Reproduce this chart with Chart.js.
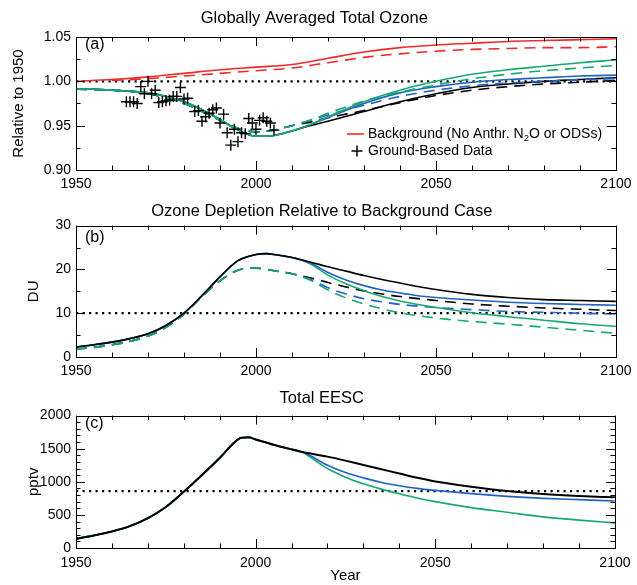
<!DOCTYPE html>
<html><head><meta charset="utf-8">
<script src="https://cdn.jsdelivr.net/npm/chart.js@4.4.1/dist/chart.umd.min.js"></script>
<style>
html,body{margin:0;padding:0;background:#fff;}
#wrap{position:relative;width:637px;height:585px;overflow:hidden;}
canvas{position:absolute;left:0;}
</style></head><body>
<div id="wrap">
<canvas id="ca" width="637" height="190" style="top:0px"></canvas>
<canvas id="cb" width="637" height="187" style="top:190px"></canvas>
<canvas id="cc" width="637" height="208" style="top:377px"></canvas>
</div>
<script>
// ---------------- DATA ----------------
// Panel (a): Globally averaged total ozone, relative to 1950
const A_RED_YEARS = [1950,1960,1970,1980,1990,2000,2010,2020,2030,2040,2050,2060,2070,2080,2090,2100];
const A_RED_GSFC  = [1.000,1.002,1.005,1.009,1.013,1.016,1.019,1.026,1.033,1.038,1.041,1.043,1.045,1.046,1.047,1.048];
const A_RED_N_YEARS = [1960,1970,1980,1990,2000,2010,2020,2030,2040,2050,2060,2070,2080,2090,2100];
const A_RED_NOCAR = [1.001,1.003,1.006,1.009,1.012,1.015,1.021,1.027,1.031,1.034,1.036,1.037,1.038,1.038,1.039];

const A_YEARS = [1950,1955,1960,1965,1970,1975,1980,1985,1990,1995,2000,2005,2010,2015,2020,2030,2040,2050,2060,2070,2080,2090,2100];
const A_GREEN_GSFC = [0.991,0.991,0.990,0.989,0.987,0.983,0.977,0.968,0.957,0.945,0.938,0.939,0.944,0.951,0.960,0.977,0.990,1.000,1.008,1.013,1.017,1.021,1.024];
const A_BLUE_GSFC  = [0.991,0.991,0.990,0.989,0.987,0.983,0.977,0.968,0.957,0.945,0.938,0.939,0.944,0.951,0.959,0.975,0.987,0.994,0.999,1.002,1.004,1.006,1.007];
const A_BLACK_GSFC = [0.991,0.991,0.990,0.989,0.987,0.983,0.977,0.968,0.957,0.945,0.938,0.939,0.944,0.950,0.955,0.966,0.977,0.986,0.993,0.997,1.000,1.002,1.004];

const A_N_YEARS = [1950,1960,1970,1980,1985,1990,1995,2000,2005,2010,2015,2020,2025,2030,2040,2050,2060,2070,2080,2090,2100];
const A_GREEN_NOCAR = [0.991,0.990,0.986,0.975,0.966,0.956,0.947,0.943,0.945,0.950,0.956,0.964,0.971,0.978,0.988,0.996,1.003,1.008,1.012,1.015,1.018];
const A_BLUE_NOCAR  = [0.991,0.990,0.986,0.975,0.966,0.956,0.947,0.943,0.945,0.950,0.956,0.962,0.968,0.973,0.983,0.990,0.995,0.998,1.000,1.002,1.003];
const A_BLACK_NOCAR = [0.991,0.990,0.986,0.975,0.966,0.956,0.947,0.943,0.945,0.950,0.954,0.959,0.963,0.967,0.976,0.984,0.990,0.994,0.997,0.999,1.001];

const OBS_YEARS = [1964,1965,1966,1967,1968,1969,1970,1971,1972,1973,1974,1975,1976,1977,1978,1979,1980,1981,1983,1984,1985,1986,1987,1988,1989,1990,1991,1992,1993,1994,1995,1996,1997,1998,1999,2000,2001,2002,2003,2004,2005];
const OBS_VALUES = [0.977,0.977,0.977,0.975,0.994,0.986,1.000,0.986,0.990,0.976,0.977,0.978,0.979,0.983,0.983,0.993,0.980,0.981,0.966,0.967,0.955,0.960,0.964,0.968,0.970,0.953,0.963,0.942,0.928,0.946,0.932,0.942,0.941,0.958,0.953,0.946,0.956,0.959,0.955,0.953,0.945];

// Panel (b): Ozone depletion relative to background (DU)
const B_YEARS = [1950,1955,1960,1965,1970,1975,1980,1985,1990,1995,2000,2003,2005,2010,2015,2020,2025,2030,2035,2040,2045,2050,2060,2070,2080,2090,2100];
const B_BLACK_GSFC = [2.3,2.8,3.4,4.2,5.3,7.2,10.0,14.0,18.3,22.0,23.4,23.6,23.4,22.7,21.7,20.6,19.6,18.6,17.7,16.9,16.1,15.4,14.3,13.6,13.1,12.9,12.7];
const B_BLUE_GSFC  = [2.3,2.8,3.4,4.2,5.3,7.2,10.0,14.0,18.3,22.0,23.4,23.6,23.4,22.7,21.5,19.3,17.6,16.3,15.3,14.6,14.0,13.6,13.0,12.5,12.2,12.0,11.8];
const B_GREEN_GSFC = [2.3,2.8,3.4,4.2,5.3,7.2,10.0,14.0,18.3,22.0,23.4,23.6,23.4,22.7,21.3,18.7,16.7,15.1,13.8,12.8,12.0,11.3,10.1,9.2,8.4,7.6,7.0];

const B_N_YEARS = [1950,1955,1960,1965,1970,1975,1980,1985,1990,1995,1998,2000,2005,2010,2015,2020,2025,2030,2035,2040,2050,2060,2070,2080,2090,2100];
const B_BLACK_NOCAR = [1.8,2.2,2.8,3.6,4.8,6.8,9.8,13.8,17.4,19.8,20.3,20.3,19.7,19.0,18.1,17.0,16.0,15.1,14.4,13.8,12.9,12.1,11.6,11.2,10.9,10.6];
const B_BLUE_NOCAR  = [1.8,2.2,2.8,3.6,4.8,6.8,9.8,13.8,17.4,19.8,20.3,20.3,19.7,19.0,17.8,15.8,14.4,13.3,12.6,12.0,11.3,10.8,10.4,10.2,10.0,9.8];
const B_GREEN_NOCAR = [1.8,2.2,2.8,3.6,4.8,6.8,9.8,13.8,17.4,19.8,20.3,20.3,19.7,19.0,17.6,15.3,13.5,12.1,11.0,10.1,8.9,8.1,7.5,6.8,6.1,5.4];

// Panel (c): Total EESC (pptv)
const C_YEARS = [1950,1955,1960,1965,1970,1975,1980,1985,1990,1994,1996,1998,2000,2005,2010,2013,2015,2020,2025,2030,2035,2040,2045,2050,2060,2070,2080,2090,2100];
const C_BLACK = [140,190,250,330,450,620,850,1100,1360,1590,1665,1672,1640,1560,1490,1450,1430,1380,1320,1255,1190,1125,1060,1005,925,860,815,785,765];
const C_BLUE  = [140,190,250,330,450,620,850,1100,1360,1590,1665,1672,1640,1560,1490,1450,1400,1250,1140,1060,990,940,900,870,820,780,750,730,710];
const C_GREEN = [140,190,250,330,450,620,850,1100,1360,1590,1665,1672,1640,1560,1490,1450,1380,1200,1070,970,890,820,755,700,610,540,470,420,380];

// Reference levels
const REF_A = 1.0, REF_B = 10, REF_C = 860;
const X_TICKS = [1950, 2000, 2050, 2100];

// ---------------- STYLE ----------------
const FONT = "'Liberation Sans', Arial, Helvetica, sans-serif";
const RED = '#ee2a2a', BLUE = '#2262c2', GREEN = '#17a870', BLACK = '#000000';
Chart.defaults.font.family = FONT;
Chart.defaults.color = '#000';

const pts = (xs, ys) => xs.map((x, i) => ({x, y: ys[i]}));
const line = (label, xs, ys, color, dashed, order, width) => ({
  label, data: pts(xs, ys), borderColor: color, backgroundColor: color,
  borderWidth: width || 1.6, borderDash: dashed ? [11, 7] : [], pointRadius: 0,
  cubicInterpolationMode: 'monotone', fill: false, order
});
const refLine = (v) => ({
  label: 'ref', data: [{x: 1950, y: v}, {x: 2100, y: v}], borderColor: '#000',
  borderWidth: 2.2, borderDash: [2.2, 4.3], pointRadius: 0, order: 50
});

function richText(ctx, parts, x, y, size) {
  let cx = x;
  ctx.textBaseline = 'middle'; ctx.textAlign = 'left'; ctx.fillStyle = '#000';
  for (const p of parts) {
    if (p.sub) { ctx.font = (size * 0.68) + 'px ' + FONT; ctx.fillText(p.t, cx, y + size * 0.32); }
    else { ctx.font = size + 'px ' + FONT; ctx.fillText(p.t, cx, y); }
    cx += ctx.measureText(p.t).width;
  }
}

function deco(cfg) {
  return {
    id: 'deco',
    afterDatasetsDraw(chart) {
      const ctx = chart.ctx, a = chart.chartArea, xs = chart.scales.x, ys = chart.scales.y;
      ctx.save();
      ctx.strokeStyle = '#000'; ctx.lineWidth = 1;
      ctx.strokeRect(Math.round(a.left) + 0.5, Math.round(a.top) + 0.5,
                     Math.round(a.right - a.left), Math.round(a.bottom - a.top));
      ctx.beginPath();
      for (let v = 1950; v <= 2100; v += 10) {
        const px = Math.round(xs.getPixelForValue(v)) + 0.5;
        const L = (v % 50 === 0) ? 9 : 4.5;
        ctx.moveTo(px, a.bottom); ctx.lineTo(px, a.bottom - L);
        ctx.moveTo(px, a.top); ctx.lineTo(px, a.top + L);
      }
      for (let i = 0; ; i++) {
        const v = cfg.ymin + i * cfg.minor;
        if (v > cfg.ymax + 1e-9) break;
        const py = Math.round(ys.getPixelForValue(v)) + 0.5;
        const major = Math.abs(Math.round(v / cfg.major) * cfg.major - v) < 1e-9;
        const L = major ? 9 : 4.5;
        ctx.moveTo(a.left, py); ctx.lineTo(a.left + L, py);
        ctx.moveTo(a.right, py); ctx.lineTo(a.right - L, py);
      }
      ctx.stroke();
      // panel label
      ctx.fillStyle = '#000'; ctx.font = '16px ' + FONT; ctx.textBaseline = 'middle'; ctx.textAlign = 'left';
      ctx.fillText(cfg.tag, a.left + 9, a.top + cfg.tagDy);
      if (cfg.legend) cfg.legend(ctx, a);
      ctx.restore();
    }
  };
}

function seg(ctx, x1, x2, y, color, dash, w) {
  ctx.save(); ctx.strokeStyle = color; ctx.lineWidth = w || 1.6; ctx.setLineDash(dash || []);
  ctx.beginPath(); ctx.moveTo(x1, y); ctx.lineTo(x2, y); ctx.stroke(); ctx.restore();
}

function makeOptions(o) {
  return {
    responsive: false, animation: false, events: [],
    layout: { padding: { left: o.padLeft, right: 18, top: 0, bottom: 0 } },
    plugins: {
      legend: { display: false }, tooltip: { enabled: false },
      title: { display: true, text: o.title, color: '#000', font: { size: 16.5, weight: 'normal' },
               padding: { top: o.tTop, bottom: o.tBot } }
    },
    scales: {
      x: {
        type: 'linear', min: 1950, max: 2100,
        grid: { display: false, drawTicks: false }, border: { display: false },
        afterBuildTicks: (s) => { s.ticks = X_TICKS.map(v => ({ value: v })); },
        ticks: { color: '#000', font: { size: 14 }, padding: o.xPad, maxRotation: 0, autoSkip: false,
                 callback: (v) => String(v) },
        title: { display: !!o.xTitle, text: o.xTitle || '', color: '#000', font: { size: 15 }, padding: 0 },
        afterFit: (s) => { s.height = o.xH; }
      },
      y: {
        min: o.ymin, max: o.ymax,
        grid: { display: false, drawTicks: false }, border: { display: false },
        ticks: { stepSize: o.major, color: '#000', font: { size: 14 }, padding: 5,
                 callback: o.fmt },
        title: { display: true, text: o.yTitle, color: '#000', font: { size: 15 }, padding: 0 },
        afterFit: (s) => { s.width = 76 - o.padLeft; }
      }
    }
  };
}

// ---------- Panel (a) ----------
new Chart(document.getElementById('ca'), {
  type: 'line',
  data: { datasets: [
    { type: 'scatter', label: 'Ground-Based Data', data: pts(OBS_YEARS, OBS_VALUES), showLine: false,
      pointStyle: 'cross', pointRadius: 5.5, borderColor: '#000', borderWidth: 1.4, backgroundColor: '#000', order: 0 },
    line('No Future N2O or ODS (GSFC)', A_YEARS, A_GREEN_GSFC, GREEN, false, 1),
    line('No Future N2O or ODS (NOCAR)', A_N_YEARS, A_GREEN_NOCAR, GREEN, true, 2),
    line('No Future ODS (GSFC)', A_YEARS, A_BLUE_GSFC, BLUE, false, 3),
    line('No Future ODS (NOCAR)', A_N_YEARS, A_BLUE_NOCAR, BLUE, true, 4),
    line('Baseline (GSFC)', A_YEARS, A_BLACK_GSFC, BLACK, false, 5),
    line('Baseline (NOCAR)', A_N_YEARS, A_BLACK_NOCAR, BLACK, true, 6),
    line('Background (GSFC)', A_RED_YEARS, A_RED_GSFC, RED, false, 7),
    line('Background (NOCAR)', A_RED_N_YEARS, A_RED_NOCAR, RED, true, 8),
    refLine(REF_A)
  ]},
  options: makeOptions({ title: 'Globally Averaged Total Ozone', tTop: 9, tBot: 8.2, padLeft: 9.6,
    ymin: 0.90, ymax: 1.05, major: 0.05, fmt: (v) => v.toFixed(2), yTitle: 'Relative to 1950', xPad: 5.5, xH: 20 }),
  plugins: [deco({ ymin: 0.90, ymax: 1.05, major: 0.05, minor: 0.025, tag: '(a)', tagDy: 8,
    legend: (ctx, a) => {
      seg(ctx, 347, 364, 134, RED);
      richText(ctx, [{t: 'Background (No Anthr. N'}, {t: '2', sub: true}, {t: 'O or ODSs)'}], 368, 134, 14);
      ctx.strokeStyle = '#000'; ctx.lineWidth = 1.5; ctx.beginPath();
      ctx.moveTo(351.5, 151); ctx.lineTo(362.5, 151); ctx.moveTo(357, 145.5); ctx.lineTo(357, 156.5); ctx.stroke();
      richText(ctx, [{t: 'Ground-Based Data'}], 368, 151, 14);
    }})]
});

// ---------- Panel (b) ----------
new Chart(document.getElementById('cb'), {
  type: 'line',
  data: { datasets: [
    line('Baseline (GSFC)', B_YEARS, B_BLACK_GSFC, BLACK, false, 1),
    line('No Future ODS (GSFC)', B_YEARS, B_BLUE_GSFC, BLUE, false, 2),
    line('No Future N2O or ODS (GSFC)', B_YEARS, B_GREEN_GSFC, GREEN, false, 3),
    line('No Future N2O or ODS (NOCAR)', B_N_YEARS, B_GREEN_NOCAR, GREEN, true, 4),
    line('No Future ODS (NOCAR)', B_N_YEARS, B_BLUE_NOCAR, BLUE, true, 5),
    line('Baseline (NOCAR)', B_N_YEARS, B_BLACK_NOCAR, BLACK, true, 6),
    refLine(REF_B)
  ]},
  options: makeOptions({ title: 'Ozone Depletion Relative to Background Case', tTop: 11.4, tBot: 4.4, padLeft: 24.6,
    ymin: 0, ymax: 30, major: 10, fmt: (v) => String(v), yTitle: 'DU', xPad: 5.5, xH: 20 }),
  plugins: [deco({ ymin: 0, ymax: 30, major: 10, minor: 5, tag: '(b)', tagDy: 12,
    legend: (ctx, a) => {
      seg(ctx, 375, 393, 239, BLUE, [], 2);
      richText(ctx, [{t: 'No Future ODS Emission'}], 397, 239, 14);
      seg(ctx, 375, 393, 252.5, '#3cc08c', [], 2);
      richText(ctx, [{t: 'No Future N'}, {t: '2', sub: true}, {t: 'O or ODS Emission'}], 397, 252.5, 14);
      seg(ctx, 375, 393, 266, BLACK, [], 1.6);
      richText(ctx, [{t: 'Baseline'}], 397, 266, 14);
      seg(ctx, 223, 267, 331, BLACK, [], 1.6);
      richText(ctx, [{t: 'GSFC'}], 268, 331, 14);
      seg(ctx, 223, 236, 345, BLACK, [], 1.6);
      seg(ctx, 251, 267, 345, BLACK, [], 1.6);
      richText(ctx, [{t: 'NOCAR'}], 268, 345, 14);
    }})]
});

// ---------- Panel (c) ----------
new Chart(document.getElementById('cc'), {
  type: 'line',
  data: { datasets: [
    line('Baseline', C_YEARS, C_BLACK, BLACK, false, 1, 2),
    line('No Future ODS Emission', C_YEARS, C_BLUE, BLUE, false, 2, 1.7),
    line('No Future N2O or ODS Emission', C_YEARS, C_GREEN, GREEN, false, 3, 1.7),
    refLine(REF_C)
  ]},
  options: makeOptions({ title: 'Total EESC', tTop: 11.4, tBot: 7.4, padLeft: 24.6,
    ymin: 0, ymax: 2000, major: 500, fmt: (v) => String(v), yTitle: 'pptv', xPad: 6.5, xH: 37, xTitle: 'Year' }),
  plugins: [deco({ ymin: 0, ymax: 2000, major: 500, minor: 100, tag: '(c)', tagDy: 8 })]
});
</script>
</body></html>
